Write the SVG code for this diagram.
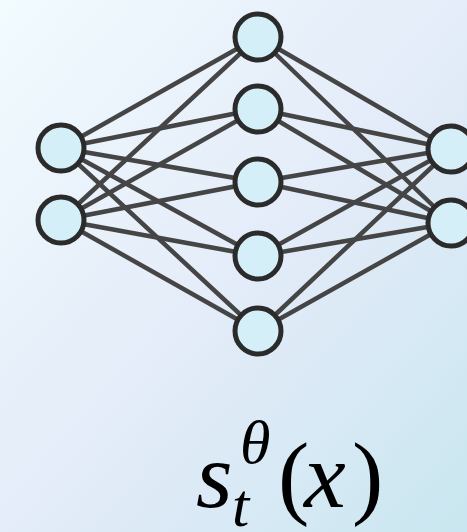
<svg xmlns="http://www.w3.org/2000/svg" width="467" height="532" viewBox="0 0 467 532">
<defs>
<linearGradient id="bg" x1="0" y1="0" x2="1" y2="1">
<stop offset="0" stop-color="#f2fbfe"/>
<stop offset="0.55" stop-color="#e2ebf8"/>
<stop offset="1" stop-color="#c9e7f0"/>
</linearGradient>
</defs>
<style>
.e{stroke:#454545;stroke-width:4.5;stroke-linecap:round}
.n{fill:#d4eff8;stroke:#2b2b2b;stroke-width:5}
.m{fill:#000}
.i{font-style:italic}
</style>
<rect width="467" height="532" fill="url(#bg)"/>
<g id="connectors">
<line class="e" x1="61" y1="148" x2="258" y2="37"/>
<line class="e" x1="61" y1="148" x2="258" y2="109"/>
<line class="e" x1="61" y1="148" x2="258" y2="182"/>
<line class="e" x1="61" y1="148" x2="258" y2="256"/>
<line class="e" x1="61" y1="148" x2="258" y2="331"/>
<line class="e" x1="61" y1="220" x2="258" y2="37"/>
<line class="e" x1="61" y1="220" x2="258" y2="109"/>
<line class="e" x1="61" y1="220" x2="258" y2="182"/>
<line class="e" x1="61" y1="220" x2="258" y2="256"/>
<line class="e" x1="61" y1="220" x2="258" y2="331"/>
<line class="e" x1="258" y1="37" x2="451" y2="149"/>
<line class="e" x1="258" y1="109" x2="451" y2="149"/>
<line class="e" x1="258" y1="182" x2="451" y2="149"/>
<line class="e" x1="258" y1="256" x2="451" y2="149"/>
<line class="e" x1="258" y1="331" x2="451" y2="149"/>
<line class="e" x1="258" y1="37" x2="451" y2="223"/>
<line class="e" x1="258" y1="109" x2="451" y2="223"/>
<line class="e" x1="258" y1="182" x2="451" y2="223"/>
<line class="e" x1="258" y1="256" x2="451" y2="223"/>
<line class="e" x1="258" y1="331" x2="451" y2="223"/>
</g>
<g id="in1"><circle class="n" cx="61" cy="148" r="23"/></g>
<g id="in2"><circle class="n" cx="61" cy="220" r="23"/></g>
<g id="h1"><circle class="n" cx="258" cy="37" r="23"/></g>
<g id="h2"><circle class="n" cx="258" cy="109" r="23"/></g>
<g id="h3"><circle class="n" cx="258" cy="182" r="23"/></g>
<g id="h4"><circle class="n" cx="258" cy="256" r="23"/></g>
<g id="h5"><circle class="n" cx="258" cy="331" r="23"/></g>
<g id="out1"><circle class="n" cx="451" cy="149" r="23"/></g>
<g id="out2"><circle class="n" cx="451" cy="223" r="23"/></g>
<g id="label" font-family="'Liberation Serif','Times New Roman','DejaVu Serif',serif">
<text class="m i" x="196" y="507" font-size="94">s</text>
<text class="m i" x="240" y="463" font-size="62">θ</text>
<text class="m i" x="232" y="526" font-size="62">t</text>
<text class="m" x="278" y="507" font-size="94">(</text>
<text class="m i" x="304" y="507" font-size="94">x</text>
<text class="m" x="352" y="507" font-size="94">)</text>
</g>
</svg>
